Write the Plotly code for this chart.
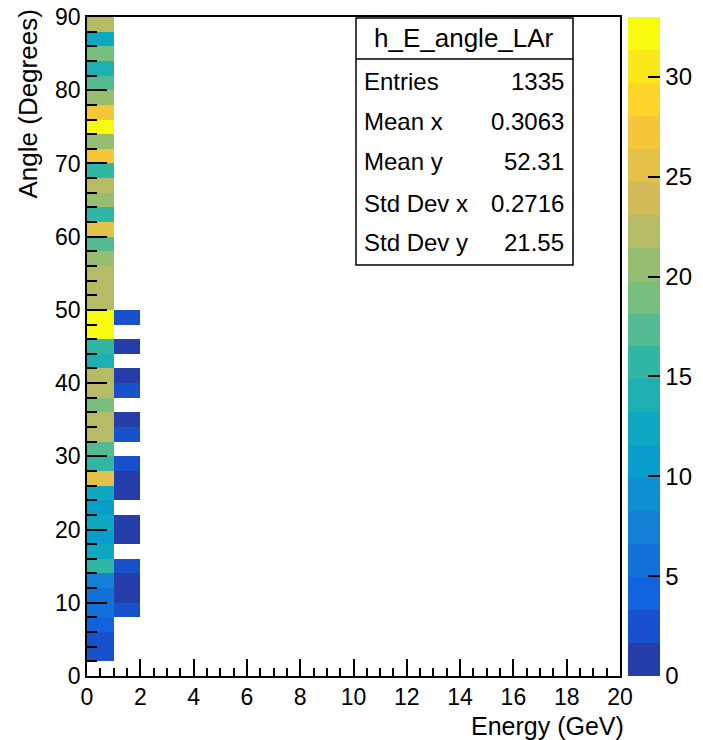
import plotly.graph_objects as go

# ---------------- data ----------------
energy_edges = [0, 1, 2]                       # GeV bin edges with content
angle_edges = list(range(0, 92, 2))            # 2-degree bins, 0..90

# counts per angle bin (bottom -> top), energy bin 0-1 GeV
counts_e0 = [0, 3, 2, 4, 5, 6, 8, 15, 12, 11,
             12, 11, 13, 25, 16, 17, 23, 22, 19, 22,
             23, 14, 16, 33, 32, 22, 23, 22, 21, 18,
             25, 15, 21, 22, 16, 27, 21, 33, 27, 20,
             17, 14, 19, 12, 23]
# counts per angle bin (bottom -> top), energy bin 1-2 GeV
counts_e1 = [0, 0, 0, 0, 2, 1, 1, 2, 0, 1,
             1, 0, 1, 1, 2, 0, 2, 1, 0, 2,
             1, 0, 1, 0, 2, 0, 0, 0, 0, 0,
             0, 0, 0, 0, 0, 0, 0, 0, 0, 0,
             0, 0, 0, 0, 0]

stats_title = "h_E_angle_LAr"
stats_labels = ["Entries", "Mean x", "Mean y", "Std Dev x", "Std Dev y"]
stats_values = ["1335", "0.3063", "52.31", "0.2716", "21.55"]

x_title = "Energy (GeV)"
y_title = "Angle (Degrees)"

# ---------------- style helpers ----------------
bird_stops = [0.0, 0.125, 0.25, 0.375, 0.5, 0.625, 0.75, 0.875, 1.0]
bird_r = [0.2082, 0.0592, 0.0780, 0.0232, 0.1802, 0.5301, 0.8186, 0.9956, 0.9764]
bird_g = [0.1664, 0.3599, 0.5041, 0.6419, 0.7178, 0.7492, 0.7328, 0.7862, 0.9832]
bird_b = [0.5293, 0.8684, 0.8385, 0.7914, 0.6425, 0.4662, 0.3499, 0.1968, 0.0539]


def bird(f):
    f = min(max(f, 0.0), 1.0)
    for i in range(len(bird_stops) - 1):
        a, b = bird_stops[i], bird_stops[i + 1]
        if f <= b:
            t = (f - a) / (b - a)
            r = bird_r[i] + t * (bird_r[i + 1] - bird_r[i])
            g = bird_g[i] + t * (bird_g[i + 1] - bird_g[i])
            bl = bird_b[i] + t * (bird_b[i + 1] - bird_b[i])
            return "rgb(%d,%d,%d)" % (round(r * 255), round(g * 255), round(bl * 255))
    return "rgb(249,251,14)"


ndiv = 20
colorscale = []
for i in range(ndiv):
    c = bird((i + 0.99) * 255 / ndiv / 254)
    colorscale.append([i / ndiv, c])
    colorscale.append([(i + 1) / ndiv, c])

z = [[(a if a > 0 else None), (b if b > 0 else None)] for a, b in zip(counts_e0, counts_e1)]
zmax = max(max(counts_e0), max(counts_e1))

W, H = 703, 740
L, R, T, B = 87, 620, 17, 676
FONT = "Liberation Sans, Arial, sans-serif"
FS_TICK = 23
FS_TITLE = 25
FS_STATS = 24


def px_x(px):
    return (px - L) / (R - L)


def px_y(py):
    return (B - py) / (B - T)


fig = go.Figure()
fig.add_trace(go.Heatmap(
    x=energy_edges, y=angle_edges, z=z,
    zmin=0, zmax=zmax, colorscale=colorscale, hoverongaps=False,
    colorbar=dict(
        x=px_x(628), xanchor="left", xref="paper", xpad=0,
        y=0.5, yanchor="middle", len=1, lenmode="fraction", ypad=0,
        thickness=32, thicknessmode="pixels", outlinewidth=0,
        tickmode="array", tickvals=[0, 5, 10, 15, 20, 25, 30],
        ticks="inside", ticklen=12, tickcolor="black", tickwidth=1.5,
        tickfont=dict(family=FONT, size=FS_TICK + 1, color="black"),
    ),
))

axis_common = dict(
    showline=True, linecolor="black", linewidth=1.5, mirror=True,
    ticks="inside", tickcolor="black", tickwidth=1.5,
    showgrid=False, zeroline=False, automargin=False,
    tickfont=dict(family=FONT, size=FS_TICK, color="black"),
)
fig.update_xaxes(range=[0, 20], tickmode="linear", tick0=0, dtick=2, ticklen=17,
                 minor=dict(dtick=0.5, ticklen=8, ticks="inside", tickcolor="black",
                            tickwidth=1.5, showgrid=False),
                 **axis_common)
fig.update_yaxes(range=[0, 90], tickmode="linear", tick0=0, dtick=10, ticklen=20,
                 minor=dict(dtick=2, ticklen=10, ticks="inside", tickcolor="black",
                            tickwidth=1.5, showgrid=False),
                 **axis_common)

annotations = [
    dict(text=x_title, x=px_x(626), xanchor="right", y=px_y(726), yanchor="middle",
         xref="paper", yref="paper", showarrow=False,
         font=dict(family=FONT, size=FS_TITLE, color="black")),
    dict(text=y_title, x=px_x(27), xanchor="center", y=px_y(8), yanchor="top",
         xref="paper", yref="paper", showarrow=False, textangle=-90,
         font=dict(family=FONT, size=FS_TITLE + 1, color="black")),
    dict(text=stats_title, x=px_x(464), xanchor="center", y=px_y(38), yanchor="middle",
         xref="paper", yref="paper", showarrow=False,
         font=dict(family=FONT, size=FS_STATS + 2, color="black")),
]
row_y = [81, 121, 162, 203, 243]
for lab, val, yy in zip(stats_labels, stats_values, row_y):
    annotations.append(dict(text=lab, x=px_x(362), xanchor="left", y=px_y(yy), yanchor="middle",
                            xref="paper", yref="paper", showarrow=False,
                            font=dict(family=FONT, size=FS_STATS, color="black")))
    annotations.append(dict(text=val, x=px_x(566), xanchor="right", y=px_y(yy), yanchor="middle",
                            xref="paper", yref="paper", showarrow=False,
                            font=dict(family=FONT, size=FS_STATS, color="black")))

shapes = [
    dict(type="rect", xref="paper", yref="paper",
         x0=px_x(356), x1=px_x(573), y0=px_y(265), y1=px_y(18),
         line=dict(color="black", width=1.5), fillcolor="white", layer="above"),
    dict(type="line", xref="paper", yref="paper",
         x0=px_x(356), x1=px_x(573), y0=px_y(59), y1=px_y(59),
         line=dict(color="black", width=1.5), layer="above"),
]

fig.update_layout(
    width=W, height=H,
    margin=dict(l=L, r=W - R, t=T, b=H - B, pad=0, autoexpand=False),
    paper_bgcolor="white", plot_bgcolor="white",
    annotations=annotations, shapes=shapes,
    font=dict(family=FONT, size=FS_TICK, color="black"),
)

fig.write_html("out.html")
